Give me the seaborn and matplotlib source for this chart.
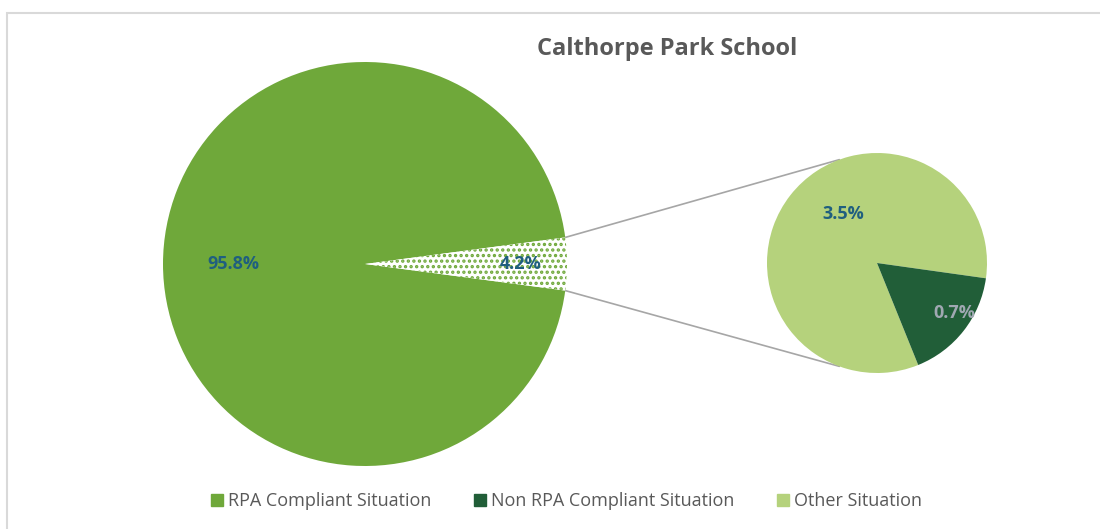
import numpy as np
import matplotlib.pyplot as plt
import matplotlib.patches as mpatches
from matplotlib.lines import Line2D
import seaborn as sns

# Chart data
title = "Calthorpe Park School"
main_labels = ["RPA Compliant Situation", "Split (Other + Non RPA)"]
main_values = [95.8, 4.2]
sub_labels = ["Other Situation", "Non RPA Compliant Situation"]
sub_values = [3.5, 0.7]
legend_labels = ["RPA Compliant Situation", "Non RPA Compliant Situation", "Other Situation"]

# Colours
green = "#6FA83A"
dark_green = "#215E38"
light_green = "#B5D27C"
label_blue = "#1F5F7F"
label_grey = "#A0A8B2"
text_grey = "#595959"

sns.set_theme(style="white")
plt.rcParams['font.family'] = ['Open Sans', 'DejaVu Sans']
plt.rcParams['hatch.linewidth'] = 1.6

W, H = 1100, 529
fig = plt.figure(figsize=(W / 100, H / 100), dpi=100)
ax = fig.add_axes([0, 0, 1, 1])

# outer chart border
fig.patches.append(mpatches.Rectangle((7 / W, -0.1), 1.2, 1 - 13 / H + 0.1,
                                      transform=fig.transFigure, fill=False,
                                      edgecolor="#D9D9D9", lw=1.5))

# main pie (pixel-based layout, y measured from bottom)
main_c, main_r = (365, H - 264), 202
half = main_values[1] / sum(main_values) * 360 / 2
main_w, _ = ax.pie(main_values, colors=[green, "white"], startangle=half,
                   center=main_c, radius=main_r, frame=True,
                   wedgeprops=dict(linewidth=0))
main_w[1].set_hatch("...")
main_w[1].set_edgecolor(green)

# secondary pie
sub_c, sub_r = (877, H - 263), 110
sub_w, _ = ax.pie(sub_values, colors=[light_green, dark_green], startangle=-8,
                  center=sub_c, radius=sub_r, frame=True,
                  wedgeprops=dict(linewidth=0))

def place(wedge, center, r, text, dist, color, dang=0):
    ang = np.deg2rad((wedge.theta1 + wedge.theta2) / 2 + dang)
    ax.text(center[0] + dist * r * np.cos(ang), center[1] + dist * r * np.sin(ang),
            text, ha="center", va="center", fontsize=13, fontweight="bold", color=color)

place(main_w[0], main_c, main_r, f"{main_values[0]}%", 0.65, label_blue)
place(main_w[1], main_c, main_r, f"{main_values[1]}%", 0.77, label_blue)
place(sub_w[0], sub_c, sub_r, f"{sub_values[0]}%", 0.54, label_blue, dang=-17)
place(sub_w[1], sub_c, sub_r, f"{sub_values[1]}%", 0.84, label_grey, dang=5)

# connector lines
for th, sa in [(main_w[1].theta1, -110), (main_w[1].theta2, 110)]:
    t = np.deg2rad(th)
    s = np.deg2rad(sa)
    ax.plot([main_c[0] + main_r * np.cos(t), sub_c[0] + sub_r * np.cos(s)],
            [main_c[1] + main_r * np.sin(t), sub_c[1] + sub_r * np.sin(s)],
            color="#A6A6A6", lw=1.2, zorder=0)

ax.set_xlim(0, W)
ax.set_ylim(0, H)
ax.set_aspect("equal")
ax.axis("off")

fig.text(667 / W, 1 - 49 / H, title, ha="center", va="center",
         fontsize=17, fontweight="bold", color=text_grey)

handles = [Line2D([], [], marker="s", ls="", markersize=9, color=c)
           for c in [green, dark_green, light_green]]
fig.legend(handles, legend_labels, loc="center", ncol=3, frameon=False,
           bbox_to_anchor=(565 / W, 1 - 501 / H), fontsize=13, labelcolor=text_grey,
           handletextpad=0.1, columnspacing=2.2, handlelength=1.0)

fig.savefig("out.png", dpi=100)
